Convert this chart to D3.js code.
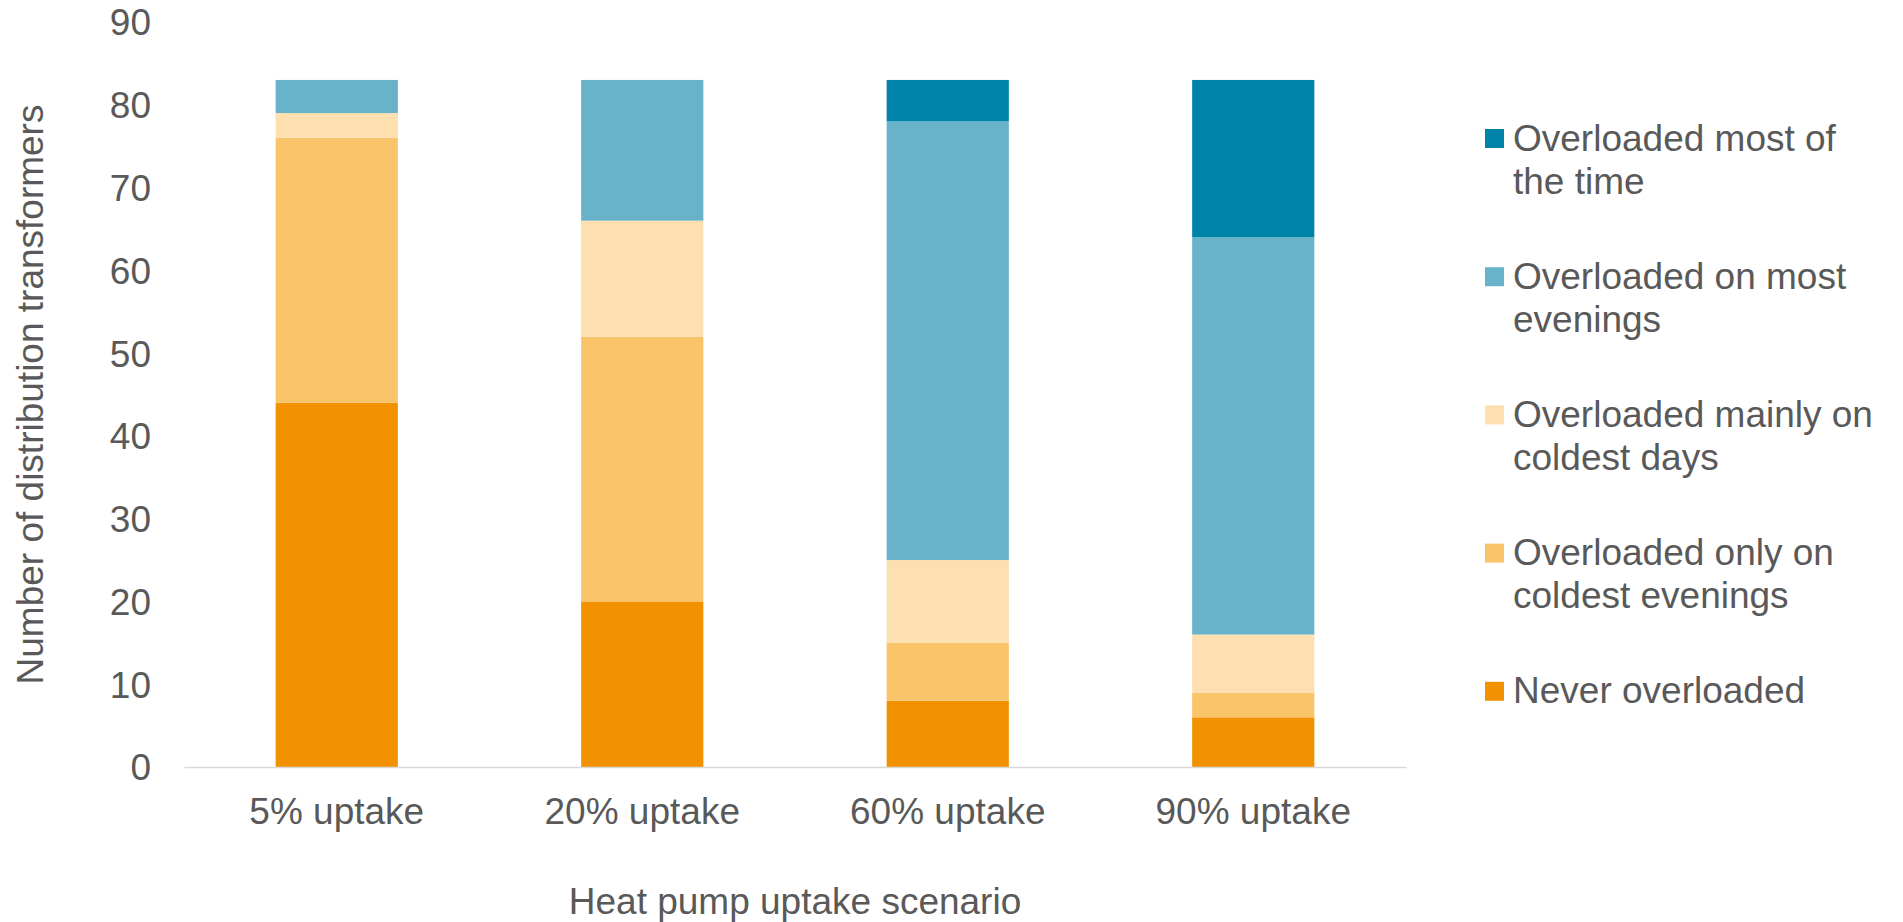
<!DOCTYPE html>
<html>
<head>
<meta charset="utf-8">
<title>Distribution transformer overloading by heat pump uptake</title>
<script src="https://cdn.jsdelivr.net/npm/d3@7/dist/d3.min.js"></script>
<style>
  html, body { margin: 0; padding: 0; background: #ffffff; }
  svg { display: block; }
  text { font-family: "Liberation Sans", Arial, sans-serif; fill: #595959; }
</style>
</head>
<body>
<svg id="chart" width="1903" height="922"></svg>
<script>
// Scenarios along the x axis
const categories = ["5% uptake", "20% uptake", "60% uptake", "90% uptake"];

// Transformer counts per overload class, per scenario (bottom of stack first)
const neverOverloaded           = [44, 20, 8, 6];
const overloadedColdestEvenings = [32, 32, 7, 3];
const overloadedColdestDays     = [3, 14, 10, 7];
const overloadedMostEvenings    = [4, 17, 53, 48];
const overloadedMostOfTime      = [0, 0, 5, 19];

const seriesNames = [
  "Never overloaded",
  "Overloaded only on coldest evenings",
  "Overloaded mainly on coldest days",
  "Overloaded on most evenings",
  "Overloaded most of the time"
];
const seriesValues = [
  neverOverloaded,
  overloadedColdestEvenings,
  overloadedColdestDays,
  overloadedMostEvenings,
  overloadedMostOfTime
];
const seriesColors = ["#f29200", "#fac46b", "#fddfb0", "#68b3ca", "#0083a9"];

const yTicks = [0, 10, 20, 30, 40, 50, 60, 70, 80, 90];
const xTitle = "Heat pump uptake scenario";
const yTitle = "Number of distribution transformers";

const FONT = 37;

const svg = d3.select("#chart");

const plot = { left: 184, right: 1406, top: 22, bottom: 767 };

const x = d3.scaleBand()
  .domain(categories)
  .range([plot.left, plot.right])
  .paddingInner(0.6)
  .paddingOuter(0.3);

const y = d3.scaleLinear()
  .domain([0, 90])
  .range([plot.bottom, plot.top]);

// Build the stack from the per-series arrays
const keys = seriesNames;
const rows = categories.map((c, i) => {
  const r = { category: c };
  keys.forEach((k, j) => { r[k] = seriesValues[j][i]; });
  return r;
});
const stacked = d3.stack().keys(keys)(rows);
const color = d3.scaleOrdinal().domain(keys).range(seriesColors);

// Bars
svg.append("g")
  .selectAll("g")
  .data(stacked)
  .join("g")
    .attr("fill", d => color(d.key))
  .selectAll("rect")
  .data(d => d)
  .join("rect")
    .attr("x", d => x(d.data.category))
    .attr("width", x.bandwidth())
    .attr("y", d => y(d[1]))
    .attr("height", d => y(d[0]) - y(d[1]));

// Y axis: labels only
const yAxis = svg.append("g")
  .attr("transform", `translate(${plot.left},0)`)
  .call(d3.axisLeft(y).tickValues(yTicks).tickSize(0).tickPadding(33).tickFormat(d3.format("d")));
yAxis.select(".domain").remove();
yAxis.selectAll(".tick text")
  .attr("dy", "0.35em")
  .attr("font-size", FONT)
  .attr("fill", "#595959");

// X axis: grey baseline and category labels
const xAxis = svg.append("g")
  .attr("transform", `translate(0,${plot.bottom})`)
  .call(d3.axisBottom(x).tickSize(0).tickSizeOuter(0));
xAxis.select(".domain")
  .attr("stroke", "#d9d9d9")
  .attr("stroke-width", 1.6);
xAxis.selectAll(".tick text")
  .attr("y", 57).attr("dy", null)
  .attr("font-size", FONT)
  .attr("fill", "#595959");

// Axis titles
svg.append("text")
  .attr("text-anchor", "middle")
  .attr("font-size", FONT)
  .attr("x", (plot.left + plot.right) / 2)
  .attr("y", 914)
  .text(xTitle);

svg.append("text")
  .attr("text-anchor", "middle")
  .attr("font-size", FONT)
  .attr("transform", `translate(43.3,${(plot.top + plot.bottom) / 2}) rotate(-90)`)
  .text(yTitle);

// Legend, top entry is the top of the stack
const legendOrder = keys.slice().reverse();
const legend = svg.append("g").attr("transform", "translate(1485,0)");
const firstBaseline = 150.5, itemStep = 138.2, lineStep = 43.2, wrapWidth = 372;

legendOrder.forEach((k, i) => {
  const base = firstBaseline + i * itemStep;
  legend.append("rect")
    .attr("x", 0).attr("y", base - 21.5)
    .attr("width", 19).attr("height", 19)
    .attr("fill", color(k));

  // word-wrap the label to the legend column width
  const words = k.split(" ");
  const lines = [];
  let line = [];
  const probe = legend.append("text").attr("font-size", FONT);
  words.forEach(w => {
    const trial = line.concat(w).join(" ");
    probe.text(trial);
    if (line.length && probe.node().getComputedTextLength() > wrapWidth) {
      lines.push(line.join(" "));
      line = [w];
    } else {
      line.push(w);
    }
  });
  lines.push(line.join(" "));
  probe.remove();

  lines.forEach((t, j) => {
    legend.append("text")
      .attr("font-size", FONT)
      .attr("x", 28)
      .attr("y", base + j * lineStep)
      .text(t);
  });
});
</script>
</body>
</html>
